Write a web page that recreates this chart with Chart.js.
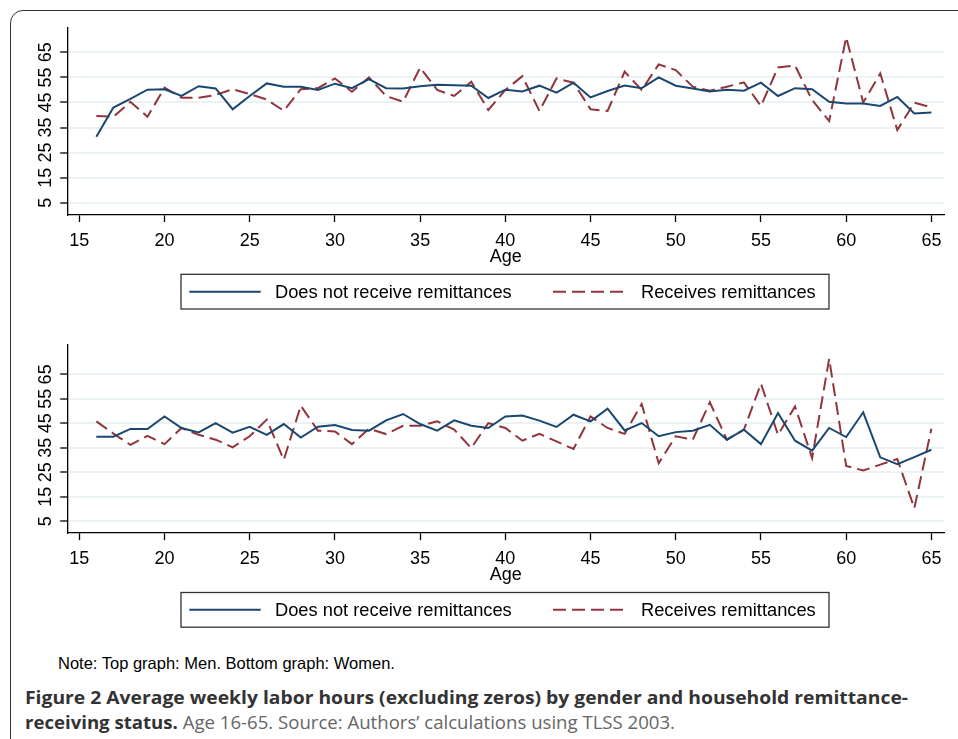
<!DOCTYPE html>
<html><head><meta charset="utf-8">
<script src="https://cdn.jsdelivr.net/npm/chart.js@4.4.0/dist/chart.umd.min.js"></script>
<style>
html,body{margin:0;padding:0;background:#fff;}
body{width:958px;height:739px;position:relative;overflow:hidden;font-family:"Liberation Sans",Arial,sans-serif;}
#frame{position:absolute;left:10px;top:10px;width:990px;height:780px;border:1.6px solid #333;border-radius:13px;box-sizing:border-box;}
canvas{position:absolute;left:0;}
#c1{top:0;}
#c2{top:320px;}
#note{position:absolute;left:58px;top:653px;font-size:16.5px;line-height:20px;color:#000;white-space:nowrap;}
.cap{position:absolute;left:25px;white-space:nowrap;font-family:"Open Sans",sans-serif;font-size:18px;line-height:24px;transform-origin:0 50%;}
#cap1{top:685px;font-weight:bold;color:#333;}
#cap2{top:710px;color:#666;}
#cap2 b{color:#333;}
</style></head>
<body>
<div id="frame"></div>
<canvas id="c1" width="958" height="320"></canvas>
<canvas id="c2" width="958" height="320"></canvas>
<div id="note">Note: Top graph: Men. Bottom graph: Women.</div>
<div id="cap1" class="cap">Figure 2 Average weekly labor hours (excluding zeros) by gender and household remittance-</div>
<div id="cap2" class="cap"><b>receiving status.</b> Age 16-65. Source: Authors’ calculations using TLSS 2003.</div>
<script>
const ages = [16,17,18,19,20,21,22,23,24,25,26,27,28,29,30,31,32,33,34,35,36,37,38,39,40,41,42,43,44,45,46,47,48,49,50,51,52,53,54,55,56,57,58,59,60,61,62,63,64,65];
const menNoRemit = [31.3,43.0,46.4,50.1,50.3,47.6,51.5,50.6,42.3,47.6,52.6,51.3,51.3,50.0,52.5,50.7,54.3,50.7,50.6,51.5,52.1,51.9,51.7,46.8,50.1,49.4,51.7,48.9,52.9,47.0,49.6,51.8,50.7,55.0,51.7,50.6,49.4,50.1,49.7,52.9,47.6,50.7,50.3,45.3,44.6,44.6,43.6,47.2,40.6,41.0];
const menRemit = [39.6,39.3,45.3,39.3,50.9,46.9,46.9,48.0,50.3,48.4,46.2,41.7,50.3,50.7,54.6,49.3,55.0,47.6,45.3,58.9,50.0,47.6,53.3,42.0,50.0,55.5,41.6,54.6,52.9,42.3,41.6,57.3,50.0,60.2,57.9,51.3,49.7,51.3,53.0,43.6,59.0,59.7,46.0,37.6,71.0,45.0,56.6,34.0,44.9,43.0];
const womenNoRemit = [39.5,39.5,42.7,42.7,47.8,43.1,41.3,45.1,41.2,43.6,40.3,44.7,39.2,43.6,44.3,42.3,42.0,46.2,48.8,44.7,42.0,46.2,44.0,43.1,47.8,48.2,46.1,43.5,48.5,45.8,51.0,42.1,45.1,39.7,41.4,42.0,44.4,38.3,42.4,36.5,49.2,37.9,33.8,43.1,39.4,49.5,31.1,28.3,31.2,34.2];
const womenRemit = [45.8,40.8,36.2,39.9,36.5,43.1,40.3,38.3,35.2,39.7,46.5,30.1,52.2,42.0,41.7,36.5,42.8,40.6,44.0,44.0,45.8,42.4,34.9,45.1,43.1,37.9,40.7,37.6,34.5,47.8,43.1,40.7,52.9,28.7,39.7,38.3,53.6,38.3,42.4,61.2,40.3,51.9,30.8,71.4,27.6,25.7,28.1,30.4,10.3,42.8];
const xTickValues = [15,20,25,30,35,40,45,50,55,60,65];
const yTickValues = [5,15,25,35,45,55,65];
const seriesLabels = ['Does not receive remittances','Receives remittances'];
const xTitle = 'Age';

const NAVY = '#1a476f', MAROON = '#90353b';
const FONT = '"Liberation Sans", Arial, sans-serif';

function pts(vals){ return ages.map((a,i)=>({x:a, y:vals[i]})); }

const rotYLabels = {
  id:'rotYLabels',
  afterDraw(chart){
    const s = chart.scales.y, ctx = chart.ctx;
    ctx.save();
    ctx.fillStyle = '#000';
    ctx.font = '18px ' + FONT;
    ctx.textAlign = 'center';
    ctx.textBaseline = 'middle';
    s.ticks.forEach(t=>{
      const y = s.getPixelForValue(t.value);
      ctx.save();
      ctx.translate(s.left + 46.5, y);
      ctx.rotate(-Math.PI/2);
      ctx.fillText(String(t.value), 0, 0);
      ctx.restore();
    });
    ctx.restore();
  }
};

const boxLegend = {
  id:'boxLegend',
  afterDraw(chart, args, opts){
    const ctx = chart.ctx;
    const top = chart.chartArea.bottom + opts.offset;
    const h = opts.height;
    ctx.save();
    ctx.strokeStyle = '#333';
    ctx.lineWidth = 1.3;
    ctx.strokeRect(opts.left, top, opts.right - opts.left, h);
    const cy = top + h/2;
    chart.data.datasets.forEach((ds,i)=>{
      const it = opts.items[i];
      ctx.beginPath();
      ctx.setLineDash(ds.borderDash || []);
      ctx.strokeStyle = ds.borderColor;
      ctx.lineWidth = ds.borderWidth;
      ctx.moveTo(it.x0, cy); ctx.lineTo(it.x1, cy);
      ctx.stroke();
      ctx.setLineDash([]);
      ctx.fillStyle = '#000';
      ctx.font = '18.3px ' + FONT;
      ctx.textAlign = 'left';
      ctx.textBaseline = 'middle';
      ctx.fillText(ds.label, it.tx, cy + 1);
    });
    ctx.restore();
  }
};

function makeChart(id, a, b, yMin, yMax, padTop, areaBottom){
  const axisH = 53.5;
  return new Chart(document.getElementById(id), {
    type:'line',
    data:{datasets:[
      {label:seriesLabels[0], data:pts(a), borderColor:NAVY, borderWidth:2, pointRadius:0, fill:false, tension:0},
      {label:seriesLabels[1], data:pts(b), borderColor:MAROON, borderWidth:2, borderDash:[13,6], pointRadius:0, fill:false, tension:0}
    ]},
    options:{
      responsive:false, animation:false, devicePixelRatio:1,
      layout:{padding:{top:padTop, left:0, right:14, bottom:320 - areaBottom - axisH}},
      plugins:{
        legend:{display:false},
        tooltip:{enabled:false},
        boxLegend:{left:181, right:829, offset:59.8, height:34.7,
          items:[{x0:189.3, x1:260.7, tx:275},{x0:553, x1:625, tx:641}]}
      },
      scales:{
        x:{type:'linear', min:14.32, max:65.74,
          afterBuildTicks:s=>{ s.ticks = xTickValues.map(v=>({value:v})); },
          afterFit:s=>{ s.height = axisH; },
          ticks:{color:'#000', font:{family:FONT, size:18}, padding:8, autoSkip:false, maxRotation:0, minRotation:0, callback:v=>String(v)},
          grid:{drawOnChartArea:false, drawTicks:true, tickLength:7.5, tickColor:'#000', tickWidth:1.3},
          border:{display:true, color:'#000', width:1.3},
          title:{display:true, text:xTitle, color:'#000', font:{family:FONT, size:18}, padding:{top:0, bottom:0}}
        },
        y:{type:'linear', min:yMin, max:yMax,
          afterBuildTicks:s=>{ s.ticks = yTickValues.map(v=>({value:v})); },
          afterFit:s=>{ s.width = 67.7; },
          ticks:{display:false},
          grid:{color:'#eaf2f3', lineWidth:2, drawTicks:true, tickLength:7.5, tickColor:'#000', tickWidth:1.3},
          border:{display:true, color:'#000', width:1.3}
        }
      }
    },
    plugins:[rotYLabels, boxLegend]
  });
}

makeChart('c1', menNoRemit, menRemit, 0.3, 75, 27.3, 214.5);
makeChart('c2', womenNoRemit, womenRemit, 0.3, 77, 25, 212.7);

function fitWidth(id, target){
  const el = document.getElementById(id);
  const w = el.getBoundingClientRect().width;
  el.style.transform = 'scaleX(' + (target / w) + ')';
}
fitWidth('cap1', 883);
fitWidth('cap2', 650);
</script>
</body></html>
